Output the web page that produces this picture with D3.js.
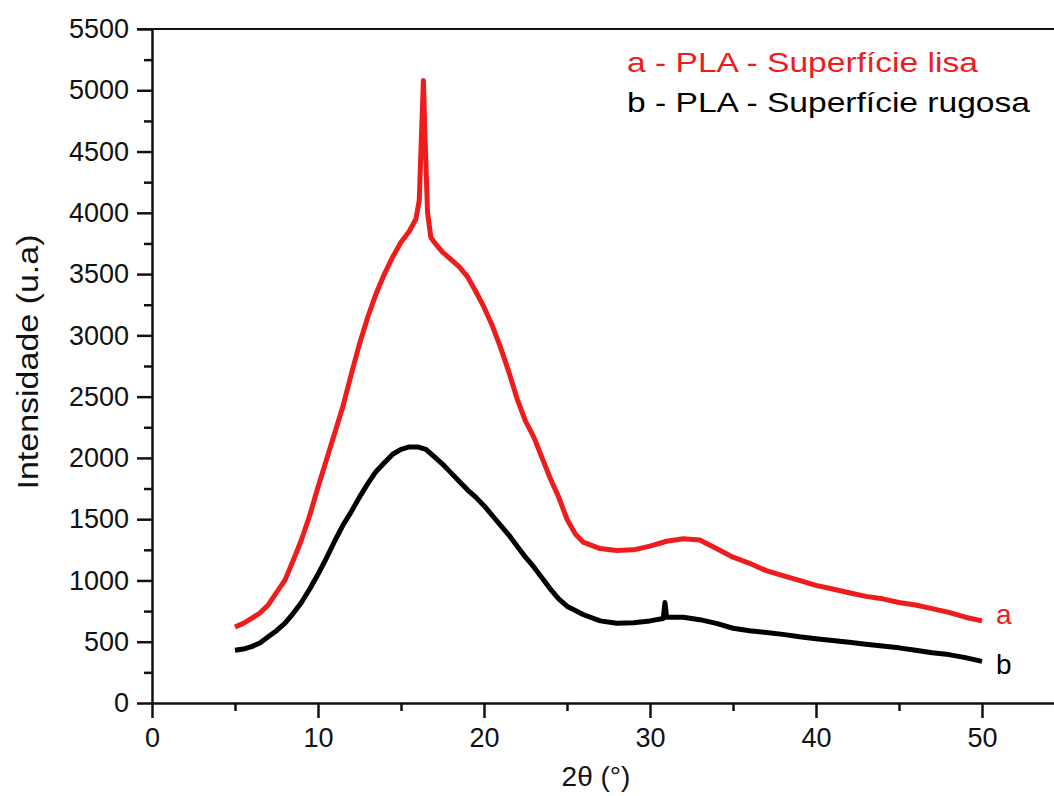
<!DOCTYPE html>
<html>
<head>
<meta charset="utf-8">
<script src="https://cdn.jsdelivr.net/npm/d3@7"></script>
<style>
  body { margin: 0; background: #fff; }
  svg { font-family: "Liberation Sans", Arial, sans-serif; }
</style>
</head>
<body>
<div id="container"></div>
<script>
// 2theta positions and intensities
var thetaA = [5, 5.5, 6, 6.5, 7, 7.5, 8, 8.5, 9, 9.5, 10, 10.5, 11, 11.5, 12, 12.5, 13, 13.5, 14, 14.5, 15, 15.5, 15.9, 16.1, 16.25, 16.35, 16.45, 16.6, 16.8, 17, 17.5, 18, 18.5, 19, 19.5, 20, 20.5, 21, 21.5, 22, 22.5, 23, 23.5, 24, 24.5, 25, 25.5, 26, 27, 28, 29, 30, 31, 32, 33, 34, 35, 36, 37, 38, 39, 40, 41, 42, 43, 44, 45, 46, 47, 48, 49, 50];
var lisa = [620, 650, 690, 734, 800, 900, 1000, 1160, 1330, 1530, 1760, 1980, 2200, 2420, 2680, 2930, 3150, 3340, 3500, 3640, 3760, 3850, 3950, 4100, 4700, 5080, 4600, 4000, 3800, 3760, 3680, 3620, 3560, 3480, 3360, 3230, 3080, 2900, 2700, 2480, 2300, 2170, 2000, 1830, 1680, 1500, 1380, 1310, 1260, 1245, 1250, 1280, 1320, 1340, 1330, 1260, 1190, 1140, 1080, 1040, 1000, 960, 930, 900, 870, 850, 820, 800, 770, 740, 700, 670];

var thetaB = [5, 5.5, 6, 6.5, 7, 7.5, 8, 8.5, 9, 9.5, 10, 10.5, 11, 11.5, 12, 12.5, 13, 13.5, 14, 14.5, 15, 15.5, 16, 16.5, 17, 17.5, 18, 18.5, 19, 19.5, 20, 20.5, 21, 21.5, 22, 22.5, 23, 23.5, 24, 24.5, 25, 26, 27, 28, 29, 30, 30.8, 30.9, 31, 32, 33, 34, 35, 36, 37, 38, 39, 40, 41, 42, 43, 44, 45, 46, 47, 48, 49, 50];
var rugosa = [430, 440, 460, 490, 540, 590, 650, 730, 820, 930, 1050, 1180, 1320, 1450, 1560, 1680, 1790, 1890, 1960, 2030, 2070, 2090, 2090, 2070, 2010, 1950, 1880, 1810, 1740, 1680, 1610, 1530, 1450, 1370, 1280, 1190, 1110, 1020, 930, 850, 790, 720, 670, 650, 655, 670, 690, 820, 700, 700, 680, 650, 610, 590, 575, 560, 540, 525, 510, 495, 480, 465, 450, 430, 410, 395, 370, 340];

var seriesNames = ["a - PLA - Superfície lisa", "b - PLA - Superfície rugosa"];
var endLabels = ["a", "b"];
var colors = ["#ee1c1c", "#000000"];

var xTicks = [0, 10, 20, 30, 40, 50];
var xMinor = [5, 15, 25, 35, 45];
var yTicks = d3.range(0, 5501, 500);
var yMinor = d3.range(250, 5500, 500);

var width = 1054, height = 796;
var plotLeft = 152, plotTop = 29, plotBottom = 703;

var svg = d3.select("#container").append("svg")
    .attr("width", width)
    .attr("height", height);

var x = d3.scaleLinear().domain([0, 55]).range([plotLeft, plotLeft + 55 * 16.6]);
var y = d3.scaleLinear().domain([0, 5500]).range([plotBottom, plotTop]);

// major + minor ticks on the left
svg.append("g")
    .attr("transform", "translate(" + plotLeft + ",0)")
    .call(d3.axisLeft(y).tickValues(yTicks).tickFormat(d3.format("d")).tickSize(15).tickPadding(8).tickSizeOuter(0));
svg.append("g")
    .attr("transform", "translate(" + plotLeft + ",0)")
    .call(d3.axisLeft(y).tickValues(yMinor).tickSize(8).tickFormat("").tickSizeOuter(0))
    .select(".domain").remove();

svg.append("g")
    .attr("transform", "translate(0," + plotBottom + ")")
    .call(d3.axisBottom(x).tickValues(xTicks).tickFormat(d3.format("d")).tickSize(15).tickPadding(10).tickSizeOuter(0));
svg.append("g")
    .attr("transform", "translate(0," + plotBottom + ")")
    .call(d3.axisBottom(x).tickValues(xMinor).tickSize(8).tickFormat("").tickSizeOuter(0))
    .select(".domain").remove();

svg.selectAll(".tick line").attr("stroke", "#111").attr("stroke-width", 2.5);
svg.selectAll(".domain").attr("stroke", "#111").attr("stroke-width", 2.5);
svg.selectAll(".tick text").attr("fill", "#111").style("font-size", "27px");

// top frame line
svg.append("line")
    .attr("x1", x(0) - 15).attr("x2", width)
    .attr("y1", y(5500)).attr("y2", y(5500))
    .attr("stroke", "#111").attr("stroke-width", 2);

// curves
var line = d3.line()
    .x(function(d){ return x(d[0]); })
    .y(function(d){ return y(d[1]); });

var sets = [d3.zip(thetaA, lisa), d3.zip(thetaB, rugosa)];
sets.forEach(function(pts, i){
    svg.append("path")
        .datum(pts)
        .attr("fill", "none")
        .attr("stroke", colors[i])
        .attr("stroke-width", 5)
        .attr("stroke-linejoin", "round")
        .attr("d", line);
});

// end-of-curve letters
svg.selectAll(".endlab")
    .data(endLabels)
    .enter().append("text")
    .attr("x", 996)
    .attr("y", function(d, i){ return i == 0 ? 624 : 674; })
    .attr("fill", function(d, i){ return colors[i]; })
    .style("font-size", "28px")
    .text(function(d){ return d; });

// legend text
svg.selectAll(".legend")
    .data(seriesNames)
    .enter().append("text")
    .attr("x", 627)
    .attr("y", function(d, i){ return 72 + i * 40; })
    .attr("fill", function(d, i){ return colors[i]; })
    .attr("textLength", function(d, i){ return i == 0 ? 351 : 403; })
    .attr("lengthAdjust", "spacingAndGlyphs")
    .style("font-size", "28px")
    .text(function(d){ return d; });

// axis titles
svg.append("text")
    .attr("transform", "translate(38,362) rotate(-90)")
    .attr("text-anchor", "middle")
    .attr("fill", "#111")
    .attr("textLength", 255)
    .attr("lengthAdjust", "spacingAndGlyphs")
    .style("font-size", "29px")
    .text("Intensidade (u.a)");

svg.append("text")
    .attr("x", 596)
    .attr("y", 786)
    .attr("text-anchor", "middle")
    .attr("fill", "#111")
    .style("font-size", "28px")
    .text("2θ (°)");
</script>
</body>
</html>
